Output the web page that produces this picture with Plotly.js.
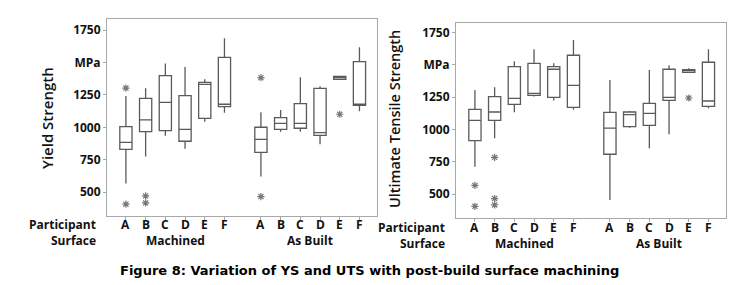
<!DOCTYPE html>
<html>
<head>
<meta charset="utf-8">
<script src="https://cdn.plot.ly/plotly-3.0.1.min.js"></script>
<style>
html,body{margin:0;padding:0;background:#fff;}
#chart{width:736px;height:285px;}
</style>
</head>
<body>
<div id="chart"></div>
<script>
// ---------- data ----------
const surfaces = ["Machined", "As Built"];
const participants = ["A", "B", "C", "D", "E", "F"];

// Yield strength (MPa), order: Machined A..F, As Built A..F
const ysLower  = [567, 775, 936, 836, 1044, 1113,   621, 967, 967, 870, 1370, 1124];
const ysQ1     = [831, 967, 975, 893, 1070, 1160,   808, 985, 993, 939, 1370, 1170];
const ysMedian = [885, 1057, 1193, 985, 1332, 1178, 908, 1031, 1031, 959, 1383, 1178];
const ysQ3     = [1006, 1224, 1398, 1244, 1347, 1540, 1001, 1075, 1183, 1301, 1393, 1506];
const ysUpper  = [1242, 1301, 1493, 1465, 1370, 1686, 1116, 1134, 1386, 1316, 1398, 1617];
// outliers: [box index, value]
const ysOutliers = [[0, 1303], [0, 408], [1, 472], [1, 418], [6, 1383], [6, 467], [10, 1101]];

// Ultimate tensile strength (MPa)
const utsLower  = [713, 932, 1133, 1254, 1223, 1153,  456, 1014, 855, 963, 1441, 1164];
const utsQ1     = [914, 1071, 1194, 1264, 1248, 1171, 809, 1022, 1032, 1225, 1441, 1179];
const utsMedian = [1071, 1135, 1241, 1279, 1465, 1341, 1010, 1115, 1125, 1248, 1454, 1220];
const utsQ3     = [1156, 1254, 1485, 1511, 1485, 1573, 1132, 1135, 1202, 1465, 1462, 1519];
const utsUpper  = [1305, 1326, 1526, 1619, 1511, 1691, 1382, 1143, 1459, 1495, 1472, 1619];
const utsOutliers = [[0, 569], [0, 407], [1, 785], [1, 467], [1, 418], [10, 1243]];

const yTickVals = [500, 750, 1000, 1250, 1500, 1750];
const yTickText = ["500", "750", "1000", "1250", "MPa", "1750"];

// ---------- layout helpers ----------
const GROUP_STEP = 6.85;
const xPos = [];
const xText = [];
surfaces.forEach((s, g) => participants.forEach((p, i) => { xPos.push(g * GROUP_STEP + i); xText.push(p); }));

const boxColor = "#5a5a5a";
const frameColor = "#a9a9a9";
const boldFont = {family: "Open Sans, Noto Sans, sans-serif", size: 12, color: "#111", weight: 700};

function boxTrace(lo, q1, med, q3, hi, xa, ya) {
  return {
    type: "box", x: xPos, lowerfence: lo, q1: q1, median: med, q3: q3, upperfence: hi,
    xaxis: xa, yaxis: ya, width: 0.62, whiskerwidth: 0,
    line: {color: boxColor, width: 1.3}, fillcolor: "rgba(255,255,255,0)",
    boxpoints: false, hoverinfo: "skip", showlegend: false
  };
}
function outTrace(outs, xa, ya) {
  return {
    type: "scatter", mode: "markers",
    x: outs.map(o => xPos[o[0]]), y: outs.map(o => o[1]),
    xaxis: xa, yaxis: ya,
    marker: {symbol: "asterisk-open", size: 6, color: "#777", line: {color: "#777", width: 1.2}},
    hoverinfo: "skip", showlegend: false
  };
}

const data = [
  boxTrace(ysLower, ysQ1, ysMedian, ysQ3, ysUpper, "x", "y"),
  outTrace(ysOutliers, "x", "y"),
  boxTrace(utsLower, utsQ1, utsMedian, utsQ3, utsUpper, "x2", "y2"),
  outTrace(utsOutliers, "x2", "y2")
];

function xAxis(domain, anchor) {
  return {
    domain: domain, anchor: anchor, range: [-0.96, 12.74],
    tickvals: xPos, showticklabels: false,
    ticks: "outside", ticklen: 3, tickcolor: frameColor,
    showline: true, mirror: true, linecolor: frameColor, linewidth: 1,
    showgrid: false, zeroline: false, fixedrange: true
  };
}
function yAxis(domain, anchor, range) {
  return {
    domain: domain, anchor: anchor, range: range,
    tickvals: yTickVals, ticktext: yTickText, tickfont: boldFont,
    ticks: "outside", ticklen: 3, tickcolor: frameColor,
    showline: true, mirror: true, linecolor: frameColor, linewidth: 1,
    showgrid: false, zeroline: false, fixedrange: true
  };
}

const W = 736, H = 285;
const px = v => v / W;
const py = v => (H - v) / H;

const titleFont = {family: "Open Sans, Noto Sans, sans-serif", size: 15, color: "#111", weight: 600};

const annotations = [];
function panelAnn(xref, plotLeftPx, partY, surfY, titleX, titleY, title, titleSize) {
  annotations.push({xref: "paper", yref: "paper", x: px(plotLeftPx), y: py(partY), text: "Participant",
    showarrow: false, xanchor: "right", yanchor: "middle", font: boldFont});
  annotations.push({xref: "paper", yref: "paper", x: px(plotLeftPx), y: py(surfY), text: "Surface",
    showarrow: false, xanchor: "right", yanchor: "middle", font: boldFont});
  xPos.forEach((xv, i) => {
    annotations.push({xref: xref, yref: "paper", x: xv, y: py(partY), text: xText[i],
      showarrow: false, xanchor: "center", yanchor: "middle", font: boldFont});
  });
  surfaces.forEach((s, g) => {
    annotations.push({xref: xref, yref: "paper", x: g * GROUP_STEP + (participants.length - 1) / 2, y: py(surfY),
      text: s, showarrow: false, xanchor: "center", yanchor: "middle", font: boldFont});
  });
  annotations.push({xref: "paper", yref: "paper", x: px(titleX), y: py(titleY), text: title,
    showarrow: false, textangle: -90, xanchor: "center", yanchor: "middle",
    font: Object.assign({}, titleFont, {size: titleSize})});
}
panelAnn("x", 98, 224, 240, 47, 118, "Yield Strength", 15);
panelAnn("x2", 447, 227, 243, 395, 119, "Ultimate Tensile Strength", 14.5);

annotations.push({xref: "paper", yref: "paper", x: px(369), y: py(270),
  text: "<b>Figure 8: Variation of YS and UTS with post-build surface machining</b>",
  showarrow: false, xanchor: "center", yanchor: "middle",
  font: {family: "DejaVu Sans, Verdana, sans-serif", size: 13, color: "#000"}});

const layout = {
  width: W, height: H,
  margin: {l: 0, r: 0, t: 0, b: 0},
  paper_bgcolor: "#fff", plot_bgcolor: "#fff",
  showlegend: false,
  xaxis: xAxis([px(107), px(377)], "y"),
  yaxis: yAxis([py(216), py(19)], "x", [317, 1835]),
  xaxis2: xAxis([px(456), px(726)], "y2"),
  yaxis2: yAxis([py(218), py(23)], "x2", [317, 1822]),
  annotations: annotations
};

Plotly.newPlot("chart", data, layout, {displayModeBar: false, staticPlot: true});
</script>
</body>
</html>
